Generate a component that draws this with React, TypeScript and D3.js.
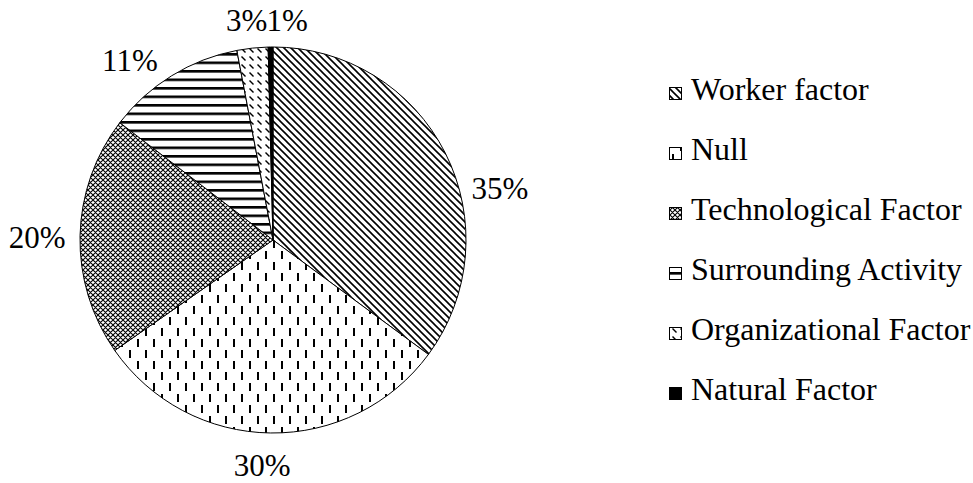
import React, { useEffect, useRef } from "react";
import * as d3 from "d3";

const categories = [
  "Worker factor",
  "Null",
  "Technological Factor",
  "Surrounding Activity",
  "Organizational Factor",
  "Natural Factor",
];
const values = [35.1, 30.2, 20.1, 11.6, 2.6, 0.4];
const valueLabels = ["35%", "30%", "20%", "11%", "3%", "1%"];
const patternIds = ["pWorker", "pNull", "pTech", "pSurr", "pOrg", "solid"];
// label nudges relative to arc position (layout only)
const labelNudge: [number, number][] = [
  [28, 49],
  [-8, 2],
  [-13, 2],
  [-26, 10],
  [-2.5, 2],
  [17, 3],
];

const W = 973;
const H = 483;
const cx = 273;
const cy = 240;
const R = 193;
const FONT = '"Liberation Serif", "Times New Roman", Times, serif';

function fillFor(i: number) {
  return patternIds[i] === "solid" ? "#000" : `url(#${patternIds[i]})`;
}

export default function App() {
  const ref = useRef<SVGSVGElement | null>(null);

  useEffect(() => {
    if (!ref.current) return;
    d3.select(ref.current)
      .selectAll<SVGTextElement, unknown>("text")
      .each(function () {
        this.style.setProperty("font-family", FONT, "important");
      });
  }, []);

  const pie = d3
    .pie<number>()
    .sort(null)
    .value((d) => d)
    .startAngle(0)
    .endAngle(2 * Math.PI);
  const arcs = pie(values);
  const arc = d3.arc<d3.PieArcDatum<number>>().innerRadius(0).outerRadius(R);
  const labelArc = d3
    .arc<d3.PieArcDatum<number>>()
    .innerRadius(R + 30)
    .outerRadius(R + 30);

  const legendY = d3
    .scalePoint<string>()
    .domain(categories)
    .range([100, 400]);

  return (
    <svg
      ref={ref}
      width={W}
      height={H}
      style={{ position: "absolute", left: 0, top: 0, background: "#fff" }}
    >
      <style>{`svg text.serif { font-family: "Liberation Serif", "Times New Roman", Times, serif !important; }`}</style>
      <defs>
        <pattern id="pWorker" patternUnits="userSpaceOnUse" width={7} height={7}>
          <rect width={7} height={7} fill="#fff" />
          <path
            d="M-1,-1 L8,8 M-1,6 L1,8 M6,-1 L8,1"
            stroke="#000"
            strokeWidth={1.6}
          />
        </pattern>
        <pattern id="pNull" patternUnits="userSpaceOnUse" width={16} height={22}>
          <rect width={16} height={22} fill="#fff" />
          <rect x={0} y={0} width={2} height={8} fill="#000" />
          <rect x={8} y={11} width={2} height={8} fill="#000" />
        </pattern>
        <pattern id="pTech" patternUnits="userSpaceOnUse" width={5} height={5}>
          <rect width={5} height={5} fill="#fff" />
          <path
            d="M-1,-1 L6,6 M-1,4 L1,6 M4,-1 L6,1 M6,-1 L-1,6 M1,-1 L-1,1 M6,4 L4,6"
            stroke="#000"
            strokeWidth={1.1}
          />
        </pattern>
        <pattern id="pSurr" patternUnits="userSpaceOnUse" width={8} height={8.5}>
          <rect width={8} height={8.5} fill="#fff" />
          <rect x={0} y={0} width={8} height={2.6} fill="#000" />
        </pattern>
        <pattern id="pOrg" patternUnits="userSpaceOnUse" width={8} height={8}>
          <rect width={8} height={8} fill="#fff" />
          <path d="M0.5,0.5 L4.5,4.5" stroke="#000" strokeWidth={1.4} />
        </pattern>
      </defs>

      <g transform={`translate(${cx},${cy})`}>
        {arcs.map((a, i) => (
          <path
            key={i}
            d={arc(a) || ""}
            fill={fillFor(i)}
            stroke="#000"
            strokeWidth={1}
          />
        ))}
      </g>

      {arcs.map((a, i) => {
        const [x, y] = labelArc.centroid(a);
        return (
          <text
            key={"l" + i}
            className="serif"
            x={cx + x + labelNudge[i][0]}
            y={cy + y + labelNudge[i][1] + 11}
            textAnchor="middle"
            fontSize={31}
            fontFamily="Liberation Serif"
            fill="#000"
          >
            {valueLabels[i]}
          </text>
        );
      })}

      {categories.map((c, i) => {
        const by = legendY(c) || 0;
        return (
          <g key={c}>
            <rect
              x={669.5}
              y={by - 12.5}
              width={12}
              height={12}
              fill={fillFor(i)}
              stroke="#000"
              strokeWidth={1}
            />
            <text
              className="serif"
              x={691}
              y={by}
              fontSize={32}
              fontFamily="Liberation Serif"
              fill="#000"
            >
              {c}
            </text>
          </g>
        );
      })}
    </svg>
  );
}
